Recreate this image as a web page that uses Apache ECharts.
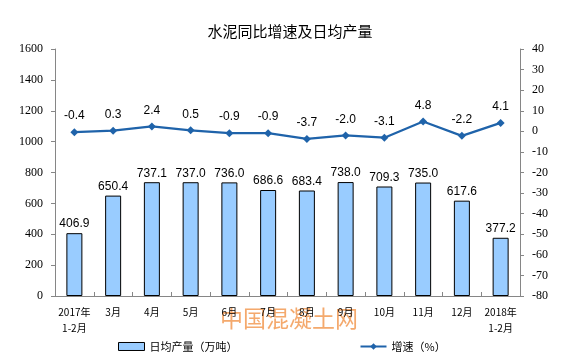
<!DOCTYPE html>
<html><head><meta charset="utf-8">
<script src="https://cdn.jsdelivr.net/npm/echarts@6/dist/echarts.min.js"></script>
<style>html,body{margin:0;padding:0;background:#fff}#c{width:580px;height:361px}</style>
</head><body><div id="c"></div>
<script>
var categories = ['2017年\n1-2月','3月','4月','5月','6月','7月','8月','9月','10月','11月','12月','2018年\n1-2月'];
var output = [406.9, 650.4, 737.1, 737.0, 736.0, 686.6, 683.4, 738.0, 709.3, 735.0, 617.6, 377.2];
var growth = [-0.4, 0.3, 2.4, 0.5, -0.9, -0.9, -3.7, -2.0, -3.1, 4.8, -2.2, 4.1];
var leftTicks = {min: 0, max: 1600, interval: 200};
var rightTicks = {min: -80, max: 40, interval: 10};

var chart = echarts.init(document.getElementById('c'), null, {renderer: 'canvas'});
var axisColor = '#868686';
chart.setOption({
  animation: false,
  title: {
    text: '水泥同比增速及日均产量', left: 'center', top: 19,
    textStyle: {fontFamily: 'Noto Sans CJK SC', fontSize: 15, fontWeight: 'normal', color: '#000'}
  },
  graphic: [{
    type: 'text', left: 220, top: 307, silent: true,
    style: {text: '中国混凝土网', fontSize: 23, fontFamily: 'Noto Sans CJK SC', fill: 'rgba(240,140,60,0.75)'}
  }],
  legend: {
    left: 113, top: 336, itemWidth: 26, itemHeight: 8, itemGap: 122,
    textStyle: {fontFamily: 'Noto Sans CJK SC', fontSize: 11, color: '#000'},
    data: [
      {name: '日均产量（万吨）', icon: 'rect', itemStyle: {color: '#99CCFF', borderColor: '#000', borderWidth: 1}},
      {name: '增速（%）'}
    ]
  },
  grid: {left: 55, right: 60, top: 49, bottom: 65, containLabel: false},
  xAxis: {
    type: 'category', data: categories,
    axisLine: {lineStyle: {color: axisColor}},
    axisTick: {show: true, alignWithLabel: false, length: 4, inside: true, lineStyle: {color: axisColor}},
    axisLabel: {fontFamily: 'Noto Sans CJK SC', fontSize: 10, color: '#000', margin: 8, lineHeight: 16, interval: 0}
  },
  yAxis: [{
    type: 'value', min: leftTicks.min, max: leftTicks.max, interval: leftTicks.interval,
    axisLine: {show: true, lineStyle: {color: axisColor}},
    axisTick: {show: true, length: 4, lineStyle: {color: axisColor}},
    splitLine: {show: false},
    axisLabel: {fontFamily: 'Liberation Serif', fontSize: 12, color: '#000', margin: 12,
      formatter: function(v){return String(v);}}
  }, {
    type: 'value', min: rightTicks.min, max: rightTicks.max, interval: rightTicks.interval,
    axisLine: {show: true, lineStyle: {color: axisColor}},
    axisTick: {show: true, length: 4, lineStyle: {color: axisColor}},
    splitLine: {show: false},
    axisLabel: {fontFamily: 'Liberation Serif', fontSize: 12, color: '#000', margin: 12,
      formatter: function(v){return String(v);}}
  }],
  series: [{
    name: '日均产量（万吨）', type: 'bar', data: output, barWidth: 16,
    itemStyle: {color: '#99CCFF', borderColor: '#000', borderWidth: 1},
    label: {show: true, position: 'top', distance: 3, fontFamily: 'Liberation Sans', fontSize: 12, color: '#000',
      formatter: function(p){return p.value.toFixed(1);}}
  }, {
    name: '增速（%）', type: 'line', yAxisIndex: 1, data: growth,
    symbol: 'diamond', symbolSize: 8,
    lineStyle: {color: '#1F63AA', width: 2.2},
    itemStyle: {color: '#1F63AA'},
    label: {show: true, position: 'top', distance: 6, fontFamily: 'Liberation Sans', fontSize: 12, color: '#000',
      formatter: function(p){return p.value.toFixed(1);}}
  }]
});
</script></body></html>
